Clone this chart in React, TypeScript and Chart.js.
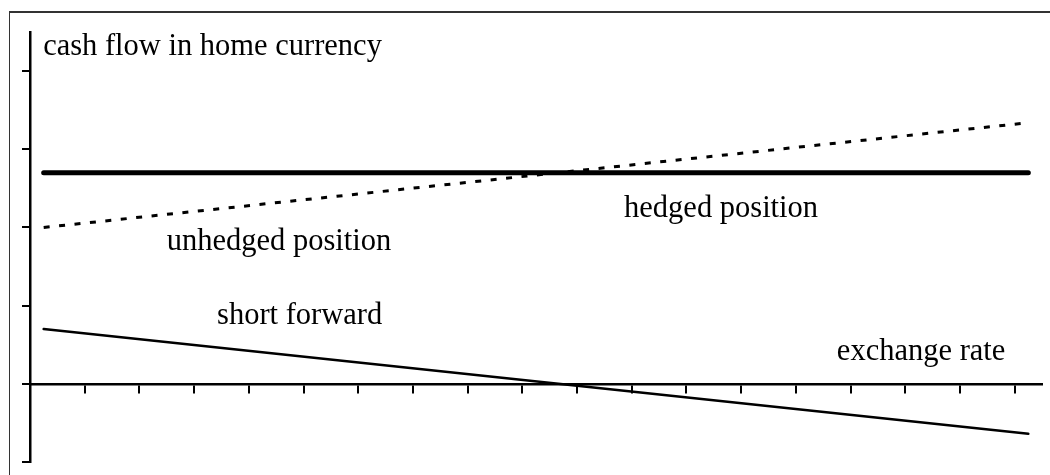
import React, { useEffect, useRef } from "react";
import { Chart, registerables } from "chart.js";

Chart.register(...registerables);

// exchange-rate axis positions of the line end points
const xPoints = [0.25, 18.25];
// series values
const hedgedValues = [2.7, 2.7];
const unhedgedValues = [2.0, 3.34];
const shortForwardValues = [0.7, -0.64];

// axis ranges
const xMin = 0;
const xMax = 18.5;
const yMin = -1;
const yMax = 4.5;

// annotation texts anchored in data units (left, baseline)
const labelTexts = [
  "cash flow in home currency",
  "unhedged position",
  "hedged position",
  "short forward",
  "exchange rate",
];
const labelX = [0.24, 2.5, 10.86, 3.42, 14.75];
const labelY = [4.21, 1.71, 2.14, 0.77, 0.3];

const FONT = '30.5px "Liberation Serif", "Times New Roman", serif';

const textPlugin = {
  id: "textLabels",
  afterDraw(chart: any) {
    const ctx = chart.ctx;
    const xs = chart.scales.x;
    const ys = chart.scales.y;
    ctx.save();
    ctx.font = FONT;
    ctx.fillStyle = "#000";
    ctx.textAlign = "left";
    ctx.textBaseline = "alphabetic";
    labelTexts.forEach((t, i) => {
      ctx.fillText(t, xs.getPixelForValue(labelX[i]), ys.getPixelForValue(labelY[i]));
    });
    ctx.restore();
  },
};

export default function App() {
  const ref = useRef<HTMLCanvasElement | null>(null);

  useEffect(() => {
    if (!ref.current) return;
    const mk = (vals: number[]) => xPoints.map((x, i) => ({ x, y: vals[i] }));
    const chart = new Chart(ref.current, {
      type: "line",
      data: {
        datasets: [
          {
            label: "hedged position",
            data: mk(hedgedValues),
            borderColor: "#000",
            borderWidth: 5,
            borderCapStyle: "round",
            pointRadius: 0,
          },
          {
            label: "unhedged position",
            data: mk(unhedgedValues),
            borderColor: "#000",
            borderWidth: 3,
            borderDash: [6, 9.5],
            pointRadius: 0,
          },
          {
            label: "short forward",
            data: mk(shortForwardValues),
            borderColor: "#000",
            borderWidth: 2.5,
            borderCapStyle: "round",
            pointRadius: 0,
          },
        ],
      },
      plugins: [textPlugin],
      options: {
        animation: false,
        responsive: false,
        devicePixelRatio: 1,
        layout: { padding: { left: 22, top: 32, right: 8, bottom: 13 } },
        plugins: {
          legend: { display: false },
          tooltip: { enabled: false },
        },
        scales: {
          x: {
            type: "linear",
            min: xMin,
            max: xMax,
            position: { y: 0 } as any,
            ticks: { display: false, stepSize: 1, includeBounds: false },
            grid: {
              drawOnChartArea: false,
              drawTicks: true,
              tickLength: 8,
              lineWidth: 2,
              color: "#000",
            },
            border: { display: true, color: "#000", width: 2.5 },
          },
          y: {
            type: "linear",
            min: yMin,
            max: yMax,
            position: "left",
            ticks: { display: false, stepSize: 1, includeBounds: false },
            grid: {
              drawOnChartArea: false,
              drawTicks: true,
              tickLength: 8,
              lineWidth: 2,
              color: "#000",
            },
            border: { display: true, color: "#000", width: 2.5 },
          },
        },
      },
    });
    return () => chart.destroy();
  }, []);

  return (
    <>
      <div
        style={{
          position: "absolute",
          left: 9,
          top: 11,
          width: 1041,
          height: 464,
          boxSizing: "border-box",
          borderTop: "2px solid #333",
          borderLeft: "1px solid #333",
        }}
      />
      <canvas
        ref={ref}
        width={1050}
        height={475}
        style={{ position: "absolute", left: 0, top: 0, width: 1050, height: 475 }}
      />
    </>
  );
}
